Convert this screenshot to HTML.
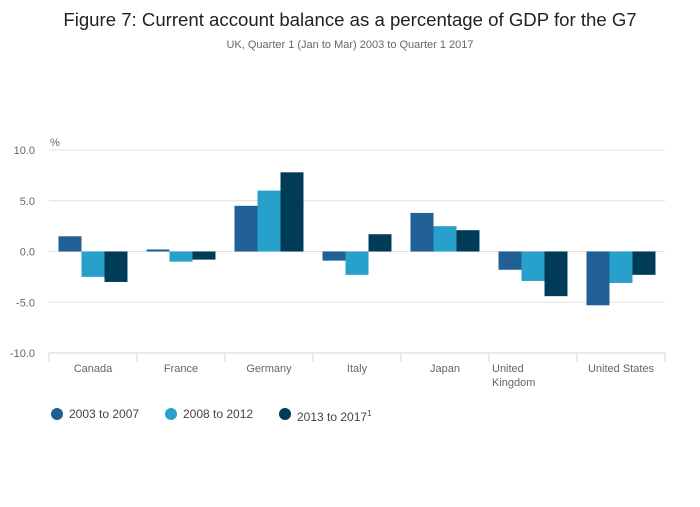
<!DOCTYPE html>
<html><head><meta charset="utf-8"><style>
body{margin:0;background:#fff;font-family:"Liberation Sans",sans-serif;}
svg text{font-family:"Liberation Sans",sans-serif;}
</style></head><body>
<svg id="chart" width="700" height="502">
<text x="350" y="26" text-anchor="middle" font-size="18.6" fill="#222">Figure 7: Current account balance as a percentage of GDP for the G7</text>
<text x="350" y="48" text-anchor="middle" font-size="11" fill="#666">UK, Quarter 1 (Jan to Mar) 2003 to Quarter 1 2017</text>
<text x="50" y="146" font-size="11" fill="#666">%</text>
<g id="grid"></g><g id="bars"></g><g id="xaxis"></g>
<g>
<circle cx="57" cy="414" r="6" fill="#206095"/>
<text x="69" y="418" font-size="12" fill="#444">2003 to 2007</text>
<circle cx="171" cy="414" r="6" fill="#27a0cc"/>
<text x="183" y="418" font-size="12" fill="#444">2008 to 2012</text>
<circle cx="285" cy="414" r="6" fill="#003c57"/>
<text x="297" y="421" font-size="12" fill="#444">2013 to 2017<tspan font-size="8" dy="-5">1</tspan></text>
</g>
</svg>
<script>
const categories=["Canada","France","Germany","Italy","Japan","United|Kingdom","United States"];
const series2003=[1.5,0.2,4.5,-0.9,3.8,-1.8,-5.3];
const series2008=[-2.5,-1.0,6.0,-2.3,2.5,-2.9,-3.1];
const series2013=[-3.0,-0.8,7.8,1.7,2.1,-4.4,-2.3];
const yTicks=[10,5,0,-5,-10];
const tickLabels=["10.0","5.0","0.0","-5.0","-10.0"];
const seriesColors=["#206095","#27a0cc","#003c57"];
const NS="http://www.w3.org/2000/svg";
const x0=49,x1=665,yTop=150,yBot=353;
function y(v){return yTop+(10-v)*(yBot-yTop)/20;}
const gw=(x1-x0)/categories.length;
function mk(t,a,p){const e=document.createElementNS(NS,t);for(const k in a)e.setAttribute(k,a[k]);p.appendChild(e);return e;}
const grid=document.getElementById('grid');
yTicks.forEach((v,i)=>{
 if(v>-10){const l=mk('line',{x1:x0,x2:x1,y1:y(v),y2:y(v),stroke:'#e0e0e0'},grid);
 
 }
 const t=mk('text',{x:x0-14,y:y(v)+4,'text-anchor':'end','font-size':11,fill:'#666'},grid);
 t.textContent=tickLabels[i];
 
 
});
const bars=document.getElementById('bars');
const all=[series2003,series2008,series2013];
const bw=23,pad=(gw-3*bw)/2;
categories.forEach((c,i)=>{
 all.forEach((s,j)=>{
  const v=s[i];const yt=Math.min(y(v),y(0)),h=Math.abs(y(v)-y(0));
  const r=mk('rect',{x:x0+i*gw+pad+j*bw,y:yt,width:bw,height:Math.max(h,1),fill:seriesColors[j]},bars);
  
  
 });
});
const xa=document.getElementById('xaxis');
const al=mk('line',{x1:x0,x2:x1,y1:yBot,y2:yBot,stroke:'#ccd6e6'},xa);


for(let i=0;i<=categories.length;i++){
 const tk=mk('line',{x1:x0+i*gw,x2:x0+i*gw,y1:yBot,y2:yBot+9,stroke:'#ccd6e6'},xa);
 
 
}
categories.forEach((c,i)=>{
 const parts=c.split('|');
 const multi=parts.length>1;
 const t=mk('text',{x:multi?x0+i*gw+3:x0+(i+0.5)*gw,y:372,'text-anchor':multi?'start':'middle','font-size':11,fill:'#666'},xa);
 parts.forEach((p,k)=>{const ts=mk('tspan',{x:multi?x0+i*gw+3:x0+(i+0.5)*gw,dy:k?14:0},t);ts.textContent=p;});
 
 
});
</script>
</body></html>
